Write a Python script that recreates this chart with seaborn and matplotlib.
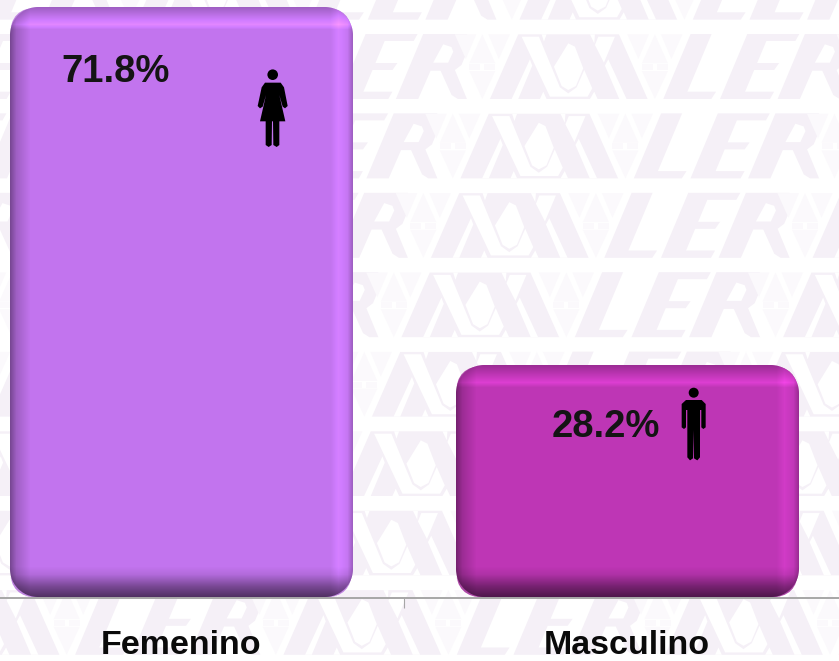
# Genero bars over the pale LER watermark

import numpy as np
import pandas as pd
import matplotlib
matplotlib.use('Agg')
import matplotlib.pyplot as plt
from matplotlib.patches import Polygon, Circle, FancyBboxPatch
from matplotlib.transforms import Affine2D
import seaborn as sns

# Data
generos = ['Femenino', 'Masculino']
porcentajes = [71.8, 28.2]
colores = ['#C274EE', '#BE36B5']

W, H = 839, 661
BASE_Y = 597.5
PX_PER_UNIT = 8.217

sns.set_theme(style='white')
plt.rcParams['font.family'] = ['Liberation Sans', 'DejaVu Sans']
label_size = 24.5
value_size = 27.5

fig = plt.figure(figsize=(W / 100, H / 100), dpi=100, facecolor='white')
# Everything that is not chart data is placed in image pixels, y going down
px = Affine2D().scale(1, -1).translate(0, H)


# Watermark: shapes are in a 65 px tall cell, origin at the bottom left of the L
SHEAR = 0.42
TINTA = '#F5F0F7'
TENUE = '#FBF9FC'
L_SHAPE = [(0, 0), (48, 0), (49.7, 7.3), (21, 7.3), (21, 65), (0, 65)]
E_SHAPE = [(0, 0), (50, 0), (51, 7.3), (22, 7.3), (22, 29), (42, 29), (44, 36), (22, 36),
           (22, 58), (51, 58), (52, 65), (0, 65)]
R_SHAPE = [(0, 0), (22.3, 0), (22.8, 28.3), (32.8, 28.3), (54, 4), (62, 0), (71, 0), (46.8, 29),
           (51.3, 34), (51.3, 55.7), (43.5, 65), (0, 65)]
R_HOLE = [(22, 36.3), (37, 36.3), (37.5, 47.3), (33.7, 52), (24.3, 54.7)]

# Logo outline and its white cuts, in 3x zoom units
X_OUT = [(420, 297), (505, 103), (807, 103), (893, 297)]
X_CUTS = [
    [(515, 110), (567, 110), (630, 262), (655, 280), (680, 262), (703, 210), (727, 265), (713, 290), (600, 290)],
    [(745, 110), (795, 110), (762, 188), (735, 135)],
    [(485, 297), (540, 178), (547, 197), (505, 297)],
    [(808, 297), (765, 197), (775, 178), (830, 297)],
    [(570, 297), (580, 275), (590, 297)],
    [(720, 297), (733, 275), (743, 297)],
    [(575, 103), (590, 103), (582, 125)],
    [(720, 103), (735, 103), (733, 130)],
]
X_HOLE = [(655, 130), (612, 200), (635, 258), (655, 270), (678, 258), (700, 205), (675, 140)]


def forma(pts, ox, oy, color, shear=0.0, z=-5):
    # cell coords (y up) to image pixels
    xy = [(ox + x + shear * y, oy - y) for x, y in pts]
    fig.add_artist(Polygon(xy, closed=True, facecolor=color, edgecolor='none', transform=px, zorder=z))


def zoom_pts(pts):
    return [((x + 205) / 3, (297 - y) / 3) for x, y in pts]


def triangulos(cx, ox, oy):
    forma([(cx - 13, 35.7), (cx, 64.7), (cx + 13, 35.7)], ox, oy, TENUE)
    forma([(cx - 13, 28), (cx + 13, 28), (cx, 0)], ox, oy, TENUE)
    forma([(cx - 13, 29), (cx - 2, 29), (cx - 2, 35), (cx - 13, 35)], ox, oy, TENUE)
    forma([(cx + 2, 29), (cx + 13, 29), (cx + 13, 35), (cx + 2, 35)], ox, oy, TENUE)
    forma([(cx + 6, 64.7), (cx + 27.6, 64.7), (cx + 16.5, 40)], ox, oy, TENUE)
    forma([(cx - 27.6, 64.7), (cx - 6, 64.7), (cx - 16.5, 40)], ox, oy, TENUE)


for fila in range(-1, 9):
    oy = 99 + 79.4 * fila
    x_fila = 663.3 - 29.5 * fila
    for k in range(-3, 3):
        ox = x_fila + 381.7 * k
        forma(L_SHAPE, ox, oy, TINTA, SHEAR)
        forma(E_SHAPE, ox + 56.7, oy, TINTA, SHEAR)
        forma(R_SHAPE, ox + 114.3, oy, TINTA, SHEAR)
        forma(R_HOLE, ox + 114.3, oy, 'white', SHEAR, z=-4)
        triangulos(200.7, ox, oy)
        triangulos(373.3, ox, oy)
        forma(zoom_pts(X_OUT), ox, oy, TINTA)
        for cut in X_CUTS:
            forma(zoom_pts(cut), ox, oy, 'white', z=-4)
        forma(zoom_pts(X_HOLE), ox, oy, 'white', z=-4)

# Chart: the axes run past both sides of the picture, like the cropped original
ax = fig.add_axes([0, (H - BASE_Y) / H, 1, BASE_Y / H])
ax.patch.set_visible(False)
df = pd.DataFrame({'genero': generos, 'porcentaje': porcentajes})
sns.barplot(data=df, x='genero', y='porcentaje', hue='genero', palette=colores,
            width=0.767, legend=False, ax=ax)
ax.set_xlim(-181 / 446, (W - 181) / 446)
ax.set_ylim(0, BASE_Y / PX_PER_UNIT)
ax.set_xlabel('')
ax.set_ylabel('')
ax.set_yticks([])
sns.despine(ax=ax, left=True)
ax.spines['bottom'].set_color('#A6A6A6')
ax.spines['bottom'].set_linewidth(1.4)
ax.set_xticks([0.5], minor=True)
ax.tick_params(axis='x', which='minor', length=7, width=0.8, color='#A6A6A6', bottom=True)
ax.tick_params(axis='x', which='major', length=0, pad=23.5, labelsize=label_size, labelcolor='#0A0A0A')
for t in ax.get_xticklabels():
    t.set_fontweight('bold')


def bisel(w, h, rgb, r=28):
    # Straight bevel bands on each side, the corners come from the alpha of the rounded box
    yy, xx = np.mgrid[0:h, 0:w]
    qx = np.abs(xx + 0.5 - w / 2) - w / 2 + r
    qy = np.abs(yy + 0.5 - h / 2) - h / 2 + r
    d = np.hypot(np.maximum(qx, 0), np.maximum(qy, 0)) + np.minimum(np.maximum(qx, qy), 0) - r
    m = np.interp(yy, [0, 8, 17, 22], [0.82, 0.98, 1.16, 1.0])
    m = m * np.interp(h - 1 - yy, [0, 10, 22, 30], [0.42, 0.62, 0.92, 1.0])
    m = m * np.interp(xx, [0, 6, 20], [0.62, 0.82, 1.0])
    m = m * np.interp(w - 1 - xx, [0, 5, 14, 22], [0.82, 1.02, 1.1, 1.0])
    img = np.zeros((h, w, 4))
    for i in range(3):
        img[..., i] = np.clip(rgb[i] * m, 0, 1)
    img[..., 3] = np.clip(0.5 - d, 0, 1)
    return img


for bar, color in zip(ax.patches, colores):
    bb = bar.get_window_extent()
    x0, x1 = bb.x0, bb.x1
    y0, y1 = H - bb.y1, H - bb.y0
    caja = FancyBboxPatch((x0, y0), x1 - x0, y1 - y0, boxstyle='round,pad=0,rounding_size=28',
                          transform=px, facecolor='none', edgecolor='none')
    ax.add_patch(caja)
    bar.set_clip_path(caja)
    img = bisel(int(round(x1 - x0)), int(round(y1 - y0)), matplotlib.colors.to_rgb(color))
    ax.imshow(img, extent=(x0, x1, y1, y0), transform=px, aspect='auto', zorder=3, interpolation='nearest')

ax.set_xlim(-181 / 446, (W - 181) / 446)
ax.set_ylim(0, BASE_Y / PX_PER_UNIT)

# Values
ax.text(115.5, 72, f'{porcentajes[0]}%', transform=px, ha='center', va='center', fontsize=value_size,
        fontweight='bold', color='#141414', zorder=5)
ax.text(605.5, 427, f'{porcentajes[1]}%', transform=px, ha='center', va='center', fontsize=value_size,
        fontweight='bold', color='#141414', zorder=5)

# Pictograms, traced in 3x zoom units
MUJER = [(795, 248), (842, 248), (852, 262), (863, 318), (855, 325), (848, 320), (838, 285), (856, 364),
         (838, 364), (838, 435), (830, 441), (820, 435), (819, 364), (816, 364), (815, 435), (806, 441),
         (797, 435), (797, 364), (780, 364), (798, 285), (788, 320), (780, 325), (773, 318), (785, 262)]
HOMBRE = [(738, 150), (785, 150), (797, 162), (797, 232), (790, 237), (784, 232), (784, 180), (780, 180),
          (780, 322), (772, 331), (762, 325), (761, 240), (759, 325), (750, 331), (742, 322), (742, 180),
          (738, 180), (738, 232), (732, 237), (725, 232), (725, 162)]
ax.add_patch(Polygon([(x / 3, y / 3) for x, y in MUJER], facecolor='black', edgecolor='none', transform=px, zorder=5))
ax.add_patch(Circle((272.7, 74.7), 5.3, facecolor='black', edgecolor='none', transform=px, zorder=5))
ax.add_patch(Polygon([(x / 3 + 440, y / 3 + 350) for x, y in HOMBRE], facecolor='black', edgecolor='none', transform=px, zorder=5))
ax.add_patch(Circle((693.7, 392.7), 5, facecolor='black', edgecolor='none', transform=px, zorder=5))

fig.savefig('out.png', dpi=100)
